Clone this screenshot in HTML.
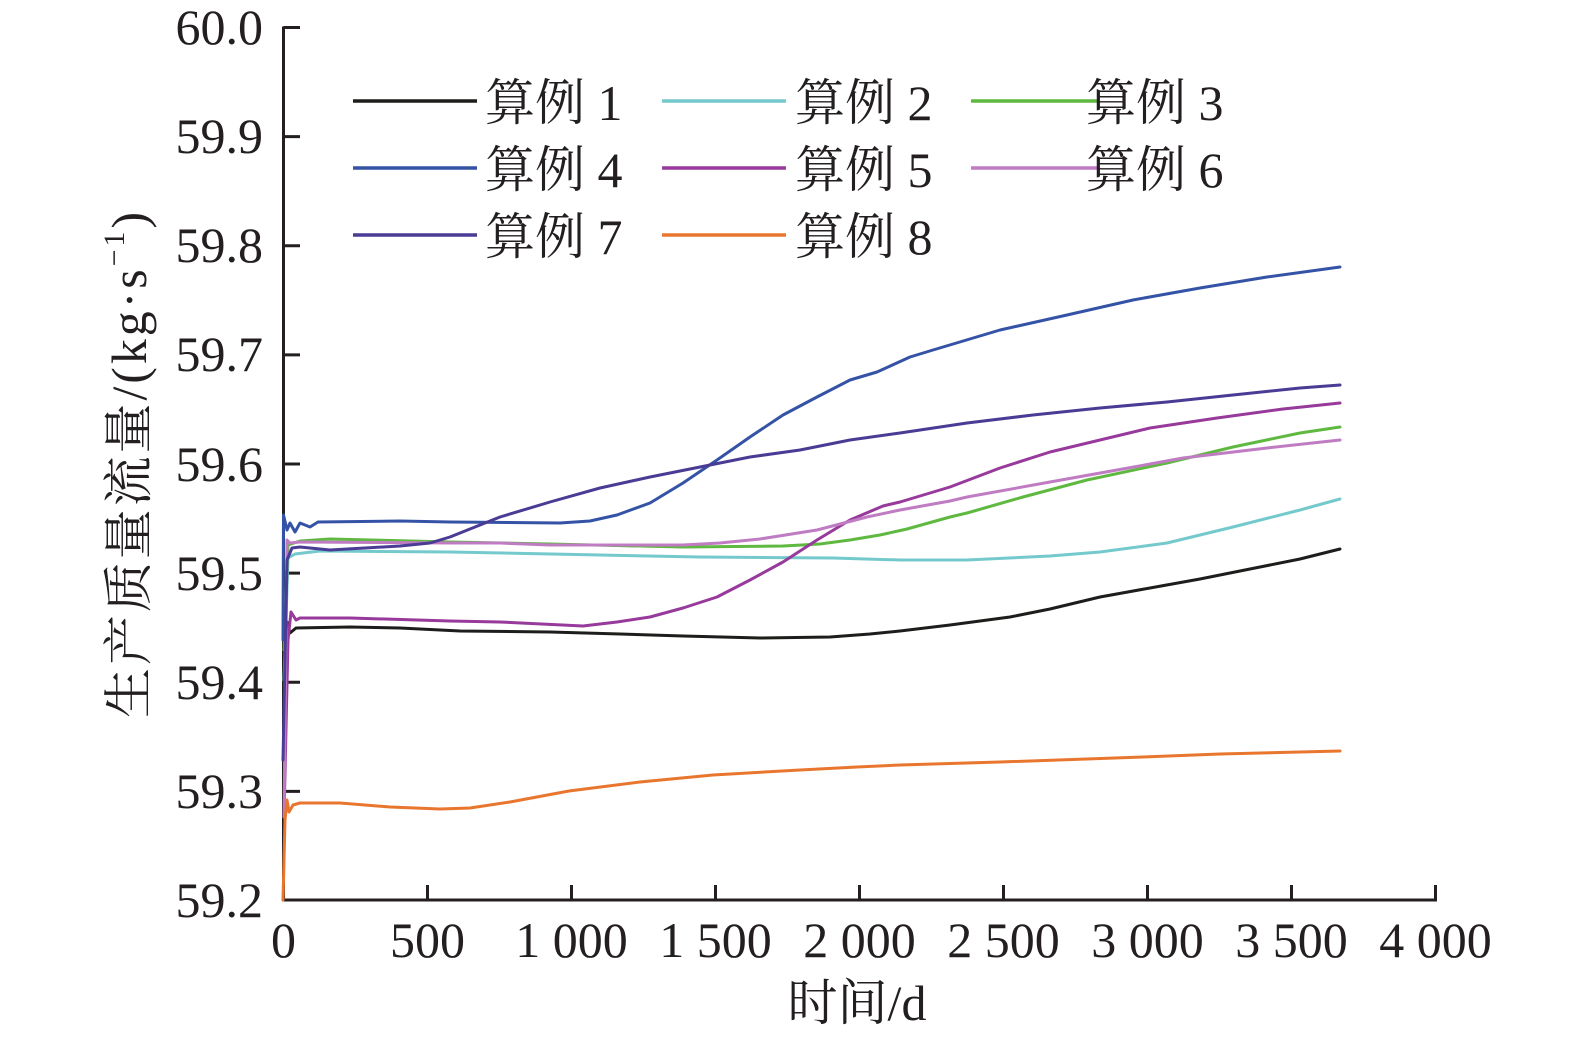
<!DOCTYPE html>
<html><head><meta charset="utf-8"><style>
html,body{margin:0;padding:0;background:#fff;}
svg{display:block;}
text{font-family:"Liberation Serif","Noto Serif CJK SC",serif;fill:#231f20;}
</style></head><body>
<svg width="1575" height="1043" viewBox="0 0 1575 1043" xmlns="http://www.w3.org/2000/svg">
<rect width="1575" height="1043" fill="#fff"/>
<!-- axes -->
<g stroke="#231f20" stroke-width="3" fill="none">
<path d="M283.5,26.5 V900 H1437"/>
<path d="M283.5,27.5 H300 M283.5,136.6 H300 M283.5,245.8 H300 M283.5,354.9 H300 M283.5,464 H300 M283.5,573.1 H300 M283.5,682.2 H300 M283.5,791.4 H300"/>
<path d="M427.5,900 V885 M571.5,900 V885 M715.5,900 V885 M859.5,900 V885 M1003.5,900 V885 M1147.5,900 V885 M1291.5,900 V885 M1435.5,900 V885"/>
</g>
<!-- y tick labels -->
<g font-size="50" text-anchor="end">
<text x="263" y="44">60.0</text>
<text x="263" y="153">59.9</text>
<text x="263" y="262">59.8</text>
<text x="263" y="371">59.7</text>
<text x="263" y="481">59.6</text>
<text x="263" y="590">59.5</text>
<text x="263" y="699">59.4</text>
<text x="263" y="808">59.3</text>
<text x="263" y="917">59.2</text>
</g>
<!-- x tick labels -->
<g font-size="50" text-anchor="middle">
<text x="283.5" y="957">0</text>
<text x="427.5" y="957">500</text>
<text x="571.5" y="957">1 000</text>
<text x="715.5" y="957">1 500</text>
<text x="859.5" y="957">2 000</text>
<text x="1003.5" y="957">2 500</text>
<text x="1147.5" y="957">3 000</text>
<text x="1291.5" y="957">3 500</text>
<text x="1435.5" y="957">4 000</text>
</g>
<!-- axis titles -->
<text x="857" y="1020" font-size="50" text-anchor="middle">时间/d</text>
<text transform="translate(146,465) rotate(-90)" x="-253" y="0" font-size="50" textLength="506" lengthAdjust="spacing">生产质量流量/(kg·s<tspan font-size="30" dy="-22">−1</tspan><tspan dy="22">)</tspan></text>

<!-- series -->
<g fill="none" stroke-width="3" stroke-linejoin="round" stroke-linecap="round">
<polyline stroke="#1d1d1b" points="284,700 287,622 290,633 296,628 350,627 400,628 460,631 550,632 620,634 683,636 760,638 830,637 870,634 900,631 950,625 1010,617 1050,609 1100,597 1150,588 1200,579 1250,569 1300,559 1340,549"/>
<polyline stroke="#74c9cc" points="284,680 288,558 295,554 320,551 450,552 600,555 700,557 833,558 900,560 967,560 1050,556 1100,552 1167,543 1233,527 1300,510 1340,499"/>
<polyline stroke="#5fb840" points="284,650 288,545 300,541 330,539 450,542 550,544 683,547 783,546 820,544 850,540 880,535 907,529 950,517 967,513 1023,497 1087,480 1167,463 1233,447 1300,433 1340,427"/>
<polyline stroke="#3553a6" points="283,640 283.5,515 287,530 290,523 295,532 300,523 310,527 318,522 400,521 450,522 560,523 590,521 617,515 650,503 683,483 717,460 750,437 783,415 817,397 850,380 877,372 910,357 933,350 1000,330 1067,315 1133,300 1200,288 1267,277 1340,267"/>
<polyline stroke="#973a9b" points="284,817 288,640 291,612 296,620 300,618 350,618 450,621 500,622 583,626 617,622 650,617 683,608 717,597 750,580 783,562 817,540 850,520 883,506 900,502 950,487 1000,468 1050,452 1100,440 1150,428 1217,418 1283,409 1340,403"/>
<polyline stroke="#c07cc3" points="284,817 287,540 290,543 300,542 450,543 500,543 550,545 683,545 720,543 760,539 817,530 867,517 900,510 950,501 967,497 1050,482 1117,470 1183,458 1267,448 1340,440"/>
<polyline stroke="#4a3b95" points="283,760 287,560 292,548 300,547 330,550 400,546 430,543 450,537 500,517 550,502 600,488 650,477 700,467 750,457 800,450 850,440 900,433 967,423 1033,415 1100,408 1167,402 1233,395 1300,388 1340,385"/>
<polyline stroke="#e8762f" points="283,900 285,820 287,800 289,812 293,805 300,803 340,803 390,807 440,809 470,808 510,802 569,791 640,782 713,775 800,770 857,767 900,765 1000,762 1143,757 1220,754 1340,751"/>
</g>

<!-- legend -->
<g stroke-width="3.5" fill="none">
<line x1="353" y1="101" x2="477" y2="101" stroke="#1d1d1b"/>
<line x1="662" y1="101" x2="786" y2="101" stroke="#74c9cc"/>
<line x1="971" y1="101" x2="1097" y2="101" stroke="#5fb840"/>
<line x1="353" y1="168" x2="477" y2="168" stroke="#3553a6"/>
<line x1="662" y1="168" x2="786" y2="168" stroke="#973a9b"/>
<line x1="971" y1="168" x2="1097" y2="168" stroke="#c07cc3"/>
<line x1="353" y1="235" x2="477" y2="235" stroke="#4a3b95"/>
<line x1="662" y1="235" x2="786" y2="235" stroke="#e8762f"/>
</g>
<g font-size="50">
<text x="485" y="120">算例 1</text>
<text x="795" y="120">算例 2</text>
<text x="1086" y="120">算例 3</text>
<text x="485" y="187">算例 4</text>
<text x="795" y="187">算例 5</text>
<text x="1086" y="187">算例 6</text>
<text x="485" y="254">算例 7</text>
<text x="795" y="254">算例 8</text>
</g>
</svg>
</body></html>
